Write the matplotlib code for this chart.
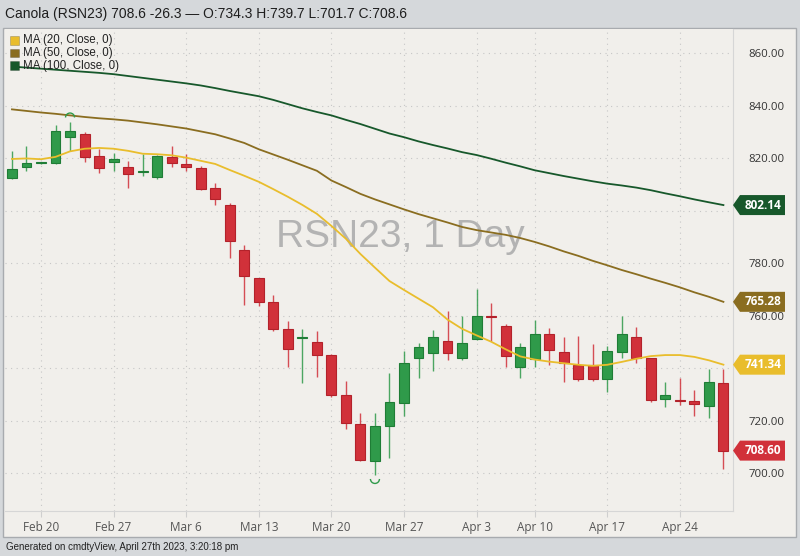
import numpy as np
import pandas as pd
import matplotlib
matplotlib.use("Agg")
import matplotlib.pyplot as plt
import matplotlib.transforms as mtransforms
from matplotlib.patches import Rectangle, Polygon, Arc

# daily candles Feb 16 - Apr 27 2023 (Good Friday closed)
dates = pd.bdate_range("2023-02-16", "2023-04-27").drop(pd.Timestamp("2023-04-07"))

opens = [812.4, 816.8, 818.0, 818.1, 828.0, 829.1, 820.9, 818.7, 816.6, 814.8,
         812.8, 820.6, 817.8, 816.4, 808.6, 802.3, 785.1, 774.3, 765.3, 755.0,
         751.4, 749.9, 745.1, 729.9, 718.7, 704.8, 717.8, 726.9, 744.0, 745.6,
         750.5, 743.8, 751.0, 760.0, 756.1, 740.4, 743.5, 753.1, 746.2, 741.3,
         741.3, 735.9, 746.3, 752.0, 743.8, 728.2, 727.9, 727.5, 725.6, 734.3]
highs = [822.8, 824.8, 818.6, 832.7, 833.9, 829.8, 823.5, 822.1, 819.0, 821.6,
         821.2, 824.7, 821.6, 817.2, 810.7, 803.1, 787.0, 774.5, 767.9, 758.0,
         755.0, 754.3, 745.3, 735.2, 723.1, 723.1, 738.1, 746.6, 749.5, 754.6,
         761.9, 759.9, 770.3, 764.8, 756.8, 749.5, 758.4, 755.2, 751.8, 752.3,
         749.3, 748.5, 759.9, 755.6, 744.0, 734.7, 736.2, 731.7, 739.6, 739.7]
lows = [812.0, 815.2, 817.8, 817.8, 822.9, 818.7, 814.5, 815.3, 808.8, 813.4,
        812.0, 816.6, 815.2, 807.9, 802.2, 781.9, 764.1, 763.7, 754.3, 740.4,
        734.3, 736.6, 729.2, 716.8, 704.8, 699.4, 705.9, 721.8, 736.4, 739.0,
        743.2, 743.2, 750.8, 750.4, 740.6, 736.2, 740.6, 741.3, 734.9, 735.3,
        735.3, 731.1, 743.8, 741.9, 727.3, 725.4, 726.0, 721.6, 721.0, 701.7]
closes = [816.0, 818.3, 818.3, 830.4, 830.4, 820.6, 816.4, 819.7, 813.9, 815.2,
          820.9, 818.1, 816.8, 808.2, 804.4, 788.5, 775.3, 765.1, 754.9, 747.5,
          752.0, 745.0, 729.9, 719.3, 705.1, 718.1, 727.3, 742.1, 748.0, 752.0,
          745.6, 749.5, 759.8, 759.6, 744.8, 748.0, 753.1, 747.0, 741.9, 735.9,
          735.9, 746.5, 753.1, 743.8, 727.7, 729.8, 727.6, 726.3, 734.9, 708.6]

ma20 = [819.7, 819.9, 819.6, 820.5, 822.6, 823.6, 823.9, 823.6, 822.8, 821.7,
        821.5, 821.1, 820.2, 819.0, 817.8, 815.5, 813.3, 811.0, 808.2, 805.3,
        802.2, 798.8, 794.2, 789.3, 783.5, 778.3, 773.2, 769.8, 766.5, 763.2,
        758.5, 755.0, 752.5, 750.1, 747.2, 744.5, 743.3, 742.5, 741.9, 741.3,
        740.9, 741.3, 742.4, 743.6, 744.6, 745.0, 745.0, 744.3, 743.0, 741.34]
ma50 = [838.6, 838.0, 837.4, 836.9, 836.3, 835.7, 835.2, 834.8, 834.3, 833.6,
        832.9, 832.1, 831.3, 830.2, 829.1, 827.5, 825.8, 823.4, 821.4, 819.4,
        817.3, 815.2, 811.5, 809.0, 806.4, 804.3, 802.4, 800.5, 798.7, 797.1,
        795.5, 793.8, 792.6, 791.7, 790.8, 789.6, 788.1, 786.4, 784.5, 782.8,
        780.9, 779.2, 777.4, 775.8, 774.1, 772.5, 770.8, 768.9, 767.2, 765.28]
ma100 = [854.9, 854.5, 854.1, 853.7, 853.3, 852.9, 852.5, 852.0, 851.3, 850.6,
         849.9, 849.2, 848.5, 847.7, 846.7, 845.6, 844.6, 843.6, 842.2, 840.6,
         839.0, 837.6, 836.3, 834.6, 833.0, 831.2, 829.4, 828.0, 826.4, 825.0,
         823.7, 822.3, 821.2, 819.8, 818.3, 816.9, 815.4, 814.3, 813.2, 812.2,
         811.2, 810.3, 809.6, 808.8, 807.8, 806.6, 805.5, 804.3, 803.2, 802.14]

title = "Canola (RSN23) 708.6 -26.3 \u2014 O:734.3 H:739.7 L:701.7 C:708.6"
footer = "Generated on cmdtyView, April 27th 2023, 3:20:18 pm"

up_c, up_e = "#2f9a4a", "#1f7d36"
dn_c, dn_e = "#d1313a", "#b3222b"
c20, c50, c100 = "#e9bd2c", "#8a6d20", "#17582b"

W, H = 800, 556
fig = plt.figure(figsize=(W / 100, H / 100), dpi=100, facecolor="#d5d8db")
fig.patches.append(Rectangle((3 / W, 1 - 537 / H), 793 / W, 509 / H,
                             transform=fig.transFigure, fc="#f1efeb",
                             ec="#a8abaf", lw=1, zorder=-10))

ax = fig.add_axes([5 / W, 1 - 511 / H, 728 / W, 482.5 / H])
ax.set_facecolor("#f1efeb")

x = np.arange(len(dates))
o, h, l, c = map(np.array, (opens, highs, lows, closes))
up = c >= o
for i in x:
    col = up_c if up[i] else dn_c
    edge = up_e if up[i] else dn_e
    ax.vlines(i, l[i], h[i], color=col, lw=1, alpha=0.85, zorder=3)
    bot = min(o[i], c[i])
    hgt = max(abs(c[i] - o[i]), 0.45)
    ax.bar(i, hgt, bottom=bot, width=0.68, color=col, edgecolor=edge,
           lw=0.8, zorder=4)

ax.plot(x, ma100, color=c100, lw=1.3, zorder=5)
ax.plot(x, ma50, color=c50, lw=1.3, zorder=5)
ax.plot(x, ma20, color=c20, lw=1.3, zorder=5)

# highest high / lowest low markers
ih, il = int(np.argmax(h)), int(np.argmin(l))
ax.add_patch(Arc((ih, h[ih] + 1.6), 0.62, 3.4, theta1=0, theta2=180,
                 color=up_c, lw=1, zorder=6))
ax.add_patch(Arc((il, l[il] - 1.6), 0.62, 3.4, theta1=180, theta2=360,
                 color=up_c, lw=1, zorder=6))

ax.set_xlim(-0.48, 49.66)
ax.set_ylim(685.6, 869.4)

ticks = [i for i, d in enumerate(dates) if d.weekday() == 0]
ax.set_xticks(ticks)
ax.set_xticklabels([f"{dates[i]:%b} {dates[i].day}" for i in ticks],
                   family="Open Sans", fontsize=8.5, color="#555555")
yt = np.arange(700, 861, 20)
ax.set_yticks(yt)
ax.set_yticklabels([f"{v:.2f}" for v in yt], family="Open Sans",
                   fontsize=8.2, color="#333333")
ax.yaxis.tick_right()
ax.tick_params(axis="y", length=0, pad=11)
ax.tick_params(axis="x", length=4, color="#cfcfcf", pad=3.5)
ax.grid(True, color="#c6c6c6", linestyle=(0, (1, 4)), lw=0.8, zorder=0)
for s in ("top", "left"):
    ax.spines[s].set_visible(False)
for s in ("right", "bottom"):
    ax.spines[s].set_color("#d6d6d6")

ax.text((400 - 5) / 728, (511 - 237) / 482.5, "RSN23, 1 Day",
        transform=ax.transAxes, ha="center", va="center", fontsize=28,
        family="Liberation Sans", color="#b3b3b3", zorder=1)

# legend
for k, (lab, col) in enumerate([("MA (20, Close, 0)", c20),
                                ("MA (50, Close, 0)", c50),
                                ("MA (100, Close, 0)", c100)]):
    yc = 40.5 + 12.5 * k
    ax.add_patch(Rectangle(((10 - 5) / 728, (511 - yc - 4.2) / 482.5),
                           8.5 / 728, 8.5 / 482.5, transform=ax.transAxes,
                           fc=col, ec="#00000040", lw=0.5, zorder=7,
                           clip_on=False))
    ax.text((23 - 5) / 728, (511 - yc) / 482.5, lab, transform=ax.transAxes,
            va="center", ha="left", fontsize=8.3, family="Liberation Sans",
            color="#222222", zorder=7)

# last-value tags on the price axis
tr = mtransforms.blended_transform_factory(ax.transAxes, ax.transData)
hh = 10 / 2.625
for val, col in [(ma100[-1], c100), (ma50[-1], c50), (ma20[-1], c20),
                 (closes[-1], dn_c)]:
    pts = [(1.0, val), (1 + 7 / 728, val + hh), (1 + 52 / 728, val + hh),
           (1 + 52 / 728, val - hh), (1 + 7 / 728, val - hh)]
    ax.add_patch(Polygon(pts, closed=True, transform=tr, fc=col, ec="none",
                         clip_on=False, zorder=8))
    ax.text(1 + 30 / 728, val, f"{val:.2f}", transform=tr, ha="center",
            va="center", fontsize=8.5, family="Open Sans", weight="bold",
            color="white", zorder=9, clip_on=False)

fig.text(5 / W, 1 - 14 / H, title, va="center", ha="left", fontsize=10,
         family="Liberation Sans", color="#1e1e1e")
fig.text(6 / W, 1 - 546.5 / H, footer, va="center", ha="left", fontsize=7.0,
         family="Liberation Sans", color="#222222")

fig.savefig("out.png", dpi=100, facecolor=fig.get_facecolor())
